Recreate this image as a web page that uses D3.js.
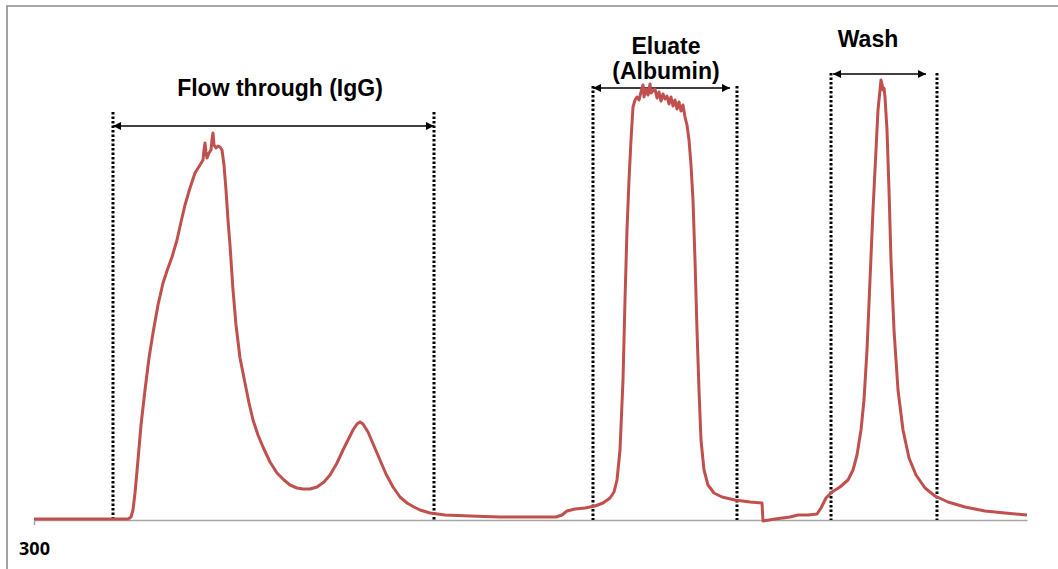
<!DOCTYPE html>
<html>
<head>
<meta charset="utf-8">
<script src="https://cdn.jsdelivr.net/npm/d3@7"></script>
<style>
  html, body { margin: 0; padding: 0; background: #fff; }
  svg { display: block; }
</style>
</head>
<body>
<svg id="chart" width="1058" height="569"></svg>
<script>
// ---- data (x: elution volume units, y: absorbance units) ----
const traceX = [300,394,397,399,401,404,407,411,415,419,424,429,434,438,443,447,451,456,461,466,469,470,471,472,473,475,477,478,479,480,482,484,486,488,490,492,494,496,499,502,506,511,515,519,524,529,536,543,550,556,563,569,576,583,590,596,603,609,614,619,623,626,629,634,640,646,652,659,666,673,680,686,696,711,736,766,806,822,828,833,841,851,861,869,876,880,883,886,889,891,893,895,897,899,901,903,905,907,909,910,912,914,916,917,919,921,923,925,927,929,931,933,935,937,939,941,943,945,947,949,951,953,955,957,959,961,963,965,967,970,974,980,988,1001,1016,1028,1029,1041,1056,1064,1074,1083,1087,1092,1098,1106,1114,1119,1123,1127,1130,1133,1136,1139,1142,1144,1146,1147,1148,1149,1150,1151,1153,1155,1157,1160,1164,1169,1175,1182,1191,1201,1214,1231,1251,1271,1293];
const traceY = [0.2,0.2,0.6,2,5.4,12,19,26,32.4,37.4,43,47.4,50.4,52.6,56,59.6,63,66.4,69.4,71,72,74,75.4,73.6,72.4,73.4,74,76,77.4,75,74.4,74.8,74.6,74,71,66,60,55,46,39,32.4,27.4,23.4,20,17,14.6,11.6,9.4,8,7,6.4,6.2,6.2,6.6,7.6,9,11.4,14,16,18,19.2,19.6,19.2,17.6,14.8,12,9.2,6.6,4.6,3.4,2.6,2,1.4,1,0.8,0.6,0.6,0.6,1,1.8,2.2,2.4,2.8,3.4,4.4,5.6,8,14,28,44,58,68,76,82.6,84,84.6,84,85.6,87,84.6,86.2,85,87.2,85.4,85.8,86.2,84.4,85.6,83.8,85.2,84.2,84.8,83.2,84.6,82.8,84,82.2,83.6,81.8,83,80.6,79,76,71,64,52,38,26,16,10,7,5.4,4.6,4,3.6,3.4,-0.2,0.2,0.6,1,1,1.2,2.4,4.4,5.6,6.6,8,10,13,18,24,34,48,62,74,82,86,88,87.2,86,86.4,84.6,78,66,52,38,26,18,12.4,9,6.4,4.8,3.6,2.6,1.8,1.4,1];

const regionNames  = ["Flow through (IgG)", "Eluate", "Wash"];
const regionLabels = [["Flow through (IgG)"], ["Eluate", "(Albumin)"], ["Wash"]];
const regionStart  = [379, 859, 1097];
const regionEnd    = [700, 1003, 1203];
const regionTop    = [81.6, 86.8, 89.4];
const arrowStart   = [379, 859, 1099];
const arrowEnd     = [700, 996, 1192];
const arrowLevel   = [78.8, 86.4, 89.2];
const xTickValues  = [300];
const xTickLabels  = ["300"];

// ---- layout ----
const svg = d3.select("#chart");
const x = d3.scaleLinear().domain([300, 1293]).range([34, 1027]);
const y = d3.scaleLinear().domain([0, 100]).range([520, 20]);

// frame
svg.append("path")
  .attr("d", "M7,569 V6 H1058")
  .attr("fill", "none").attr("stroke", "#8c8c8c").attr("stroke-width", 1.6);

// arrow marker
const defs = svg.append("defs");
["start", "end"].forEach(k => {
  defs.append("marker")
    .attr("id", "arr-" + k)
    .attr("viewBox", "0 0 10 10")
    .attr("refX", k === "end" ? 10 : 0).attr("refY", 5)
    .attr("markerWidth", 12).attr("markerHeight", 8)
    .attr("markerUnits", "userSpaceOnUse")
    .attr("orient", "auto")
    .append("path")
    .attr("d", k === "end" ? "M0,0 L10,5 L0,10 Z" : "M10,0 L0,5 L10,10 Z")
    .attr("fill", "#000");
});

// x axis
const axis = d3.axisBottom(x).tickValues(xTickValues)
  .tickFormat((d, i) => xTickLabels[i]).tickSize(5).tickSizeOuter(0).tickPadding(17);
const gx = svg.append("g").attr("transform", `translate(0,${y(0)})`).call(axis);
gx.select(".domain").attr("stroke", "#a6a6a6").attr("stroke-width", 1.4);
gx.selectAll(".tick line").attr("stroke", "#a6a6a6").attr("stroke-width", 1.4);
gx.selectAll(".tick text")
  .attr("font-family", "'Open Sans', 'Liberation Sans', sans-serif")
  .attr("font-weight", "bold").attr("font-size", 18).attr("fill", "#000");

// dotted region boundaries and arrows
regionNames.forEach((name, i) => {
  [regionStart[i], regionEnd[i]].forEach(v => {
    svg.append("line")
      .attr("x1", x(v)).attr("x2", x(v))
      .attr("y1", y(regionTop[i])).attr("y2", y(0))
      .attr("stroke", "#000").attr("stroke-width", 3)
      .attr("stroke-dasharray", "2.5,2");
  });
  svg.append("line")
    .attr("x1", x(arrowStart[i])).attr("x2", x(arrowEnd[i]))
    .attr("y1", y(arrowLevel[i])).attr("y2", y(arrowLevel[i]))
    .attr("stroke", "#000").attr("stroke-width", 1.3)
    .attr("marker-start", "url(#arr-start)")
    .attr("marker-end", "url(#arr-end)");
});

// trace
const pts = traceX.map((d, i) => [d, traceY[i]]);
svg.append("path")
  .datum(pts)
  .attr("d", d3.line().x(d => x(d[0])).y(d => y(d[1])))
  .attr("fill", "none")
  .attr("stroke", "#c0504d")
  .attr("stroke-width", 3)
  .attr("stroke-linejoin", "round");

// labels
const labelFont = "'Liberation Sans', Arial, sans-serif";
const labelCenters = [546, 932, 1134];
const labelBaselines = [[96], [54, 79], [47]];
regionLabels.forEach((lines, i) => {
  lines.forEach((t, j) => {
    svg.append("text")
      .attr("x", x(labelCenters[i]))
      .attr("y", labelBaselines[i][j])
      .attr("text-anchor", "middle")
      .attr("font-family", labelFont)
      .attr("font-weight", "bold")
      .attr("font-size", 23)
      .attr("fill", "#000")
      .text(t);
  });
});
</script>
</body>
</html>
